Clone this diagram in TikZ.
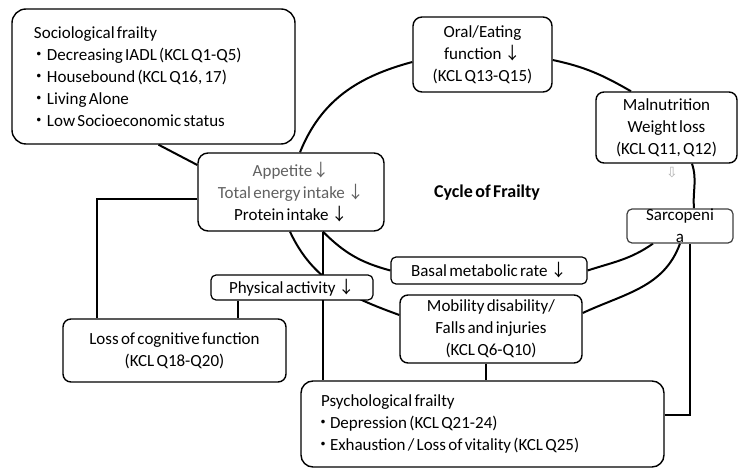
\documentclass[tikz,border=0pt]{standalone}
\usepackage{fontspec}
\setmainfont{Carlito}[WordSpace=0.6]
\newfontfamily\cjkfont{Noto Sans CJK JP}
\newfontfamily\symfont{DejaVu Sans}
\usetikzlibrary{backgrounds}
\newcommand{\dn}{{\cjkfont ↓}}
% bullet: dot offset, text offset
\newcommand{\jdot}[2]{\makebox[#2][l]{\hspace*{#1}\makebox[0pt][c]{\cjkfont ・}}}
\colorlet{softtext}{black!62}

\begin{document}
\begin{tikzpicture}[x=1pt, y=1pt,
  box/.style={draw, rounded corners=9pt, line width=1.4pt, fill=white, align=center,
    font=\fontsize{17}{22}\selectfont, inner sep=0pt},
  smallbox/.style={box, rounded corners=5pt, line width=1.2pt},
  cyc/.style={line width=2pt},
  link/.style={line width=2pt},
]
\useasboundingbox (0,0) rectangle (739,469);

% =================== frailty boxes ===================
\node[box, rounded corners=14pt, minimum width=283pt, minimum height=135pt,
      text width=239pt, align=flush left] (soc) at (153.5,392.5)
  {Sociological frailty\\ \jdot{5pt}{13pt}Decreasing IADL (KCL Q1-Q5)\\ \jdot{5pt}{13pt}Housebound (KCL Q16, 17)\\
   \jdot{5pt}{13pt}Living Alone\\ \jdot{5pt}{13pt}Low Socioeconomic status};

\node[box, rounded corners=10pt, minimum width=186pt, minimum height=78pt] (app) at (291,277)
  {{\color{softtext}Appetite\dn}\\ {\color{softtext}Total energy intake \dn}\\ Protein intake \dn};

\node[box, minimum width=139pt, minimum height=75pt] (oral) at (482.5,414.5)
  {Oral/Eating\\ function \dn\\ (KCL Q13-Q15)};

\node[box, rounded corners=8pt, minimum width=141pt, minimum height=71pt] (maln) at (666.5,341.5)
  {Malnutrition\\ Weight loss\\ (KCL Q11, Q12)};

% box is smaller than its text
\node[smallbox, draw=black!75, minimum width=106pt, minimum height=34pt] (sarc) at (680,243) {};
\node[align=center, font=\fontsize{17}{22}\selectfont, inner sep=0pt] (sarctxt) at (sarc.center)
  {Sarcopeni\\ a};

\node[smallbox, minimum width=196pt, minimum height=27pt] (basal) at (489,198.5)
  {Basal metabolic rate \dn};

\node[box, rounded corners=8pt, minimum width=182pt, minimum height=68pt] (mob) at (491,140)
  {Mobility disability/\\ Falls and injuries\\ (KCL Q6-Q10)};

\node[smallbox, minimum width=162pt, minimum height=25pt] (phys) at (292,181.5)
  {Physical activity \dn};

\node[box, rounded corners=8pt, minimum width=223pt, minimum height=63pt] (cog) at (174.5,118.5)
  {Loss of cognitive function\\ (KCL Q18-Q20)};

\node[box, rounded corners=12pt, minimum width=363pt, minimum height=86pt,
      text width=323pt, align=flush left] (psy) at (482.5,45)
  {Psychological frailty\\ \jdot{2pt}{9pt}Depression (KCL Q21-24)\\ \jdot{2pt}{9pt}Exhaustion / Loss of vitality (KCL Q25)};

\node[font=\fontsize{18}{22}\selectfont\bfseries] (ctitle) at (487,276) {Cycle of Frailty};
\node[text=black!30, font=\symfont\fontsize{14}{14}\selectfont] (hint) at (672,296) {⇩};

% =================== connectors ===================
\begin{scope}[on background layer]
  \fill[white] (0,0) rectangle (739,469);

  % the cycle
  \draw[cyc] ([xshift=9pt]app.north) to[out=68, in=195] ([yshift=-7.5pt]oral.west);
  \draw[cyc] ([yshift=-5.5pt]oral.east) to[out=-12, in=150] ([xshift=-35.5pt]maln.north);
  \draw[cyc] ([xshift=25.5pt]maln.south) to[out=-72, in=95] ([xshift=14pt]sarc.north);
  \draw[cyc] ([xshift=-27pt]sarc.south) to[out=215, in=18] (basal.east);
  \draw[cyc] (sarc.south) to[out=250, in=25] ([yshift=16pt]mob.east);
  \draw[cyc] (basal.west) to[out=165, in=-45] ([xshift=32pt]app.south);
  \draw[cyc] ([yshift=14pt]mob.west) to[out=160, in=-65] ([xshift=-1pt]app.south);

  % links to the other kinds of frailty
  \draw[link] ([xshift=5pt]soc.south) -- ([yshift=27pt]app.west);
  \draw[link] ([yshift=-7pt]app.west) -| ([xshift=-77.5pt]cog.north);
  \draw[link] ([xshift=-54pt]phys.south) -- ([xshift=-54pt]phys.south |- cog.north);
  \draw[link] ([xshift=32pt]app.south) -- ([xshift=32pt]app.south |- psy.north);
  \draw[link] ([xshift=-5pt]mob.south) -- ([xshift=-5pt]mob.south |- psy.north);
  \draw[link] ([yshift=9pt]psy.east) -| ([xshift=10pt]sarc.south);
\end{scope}

\end{tikzpicture}
\end{document}
